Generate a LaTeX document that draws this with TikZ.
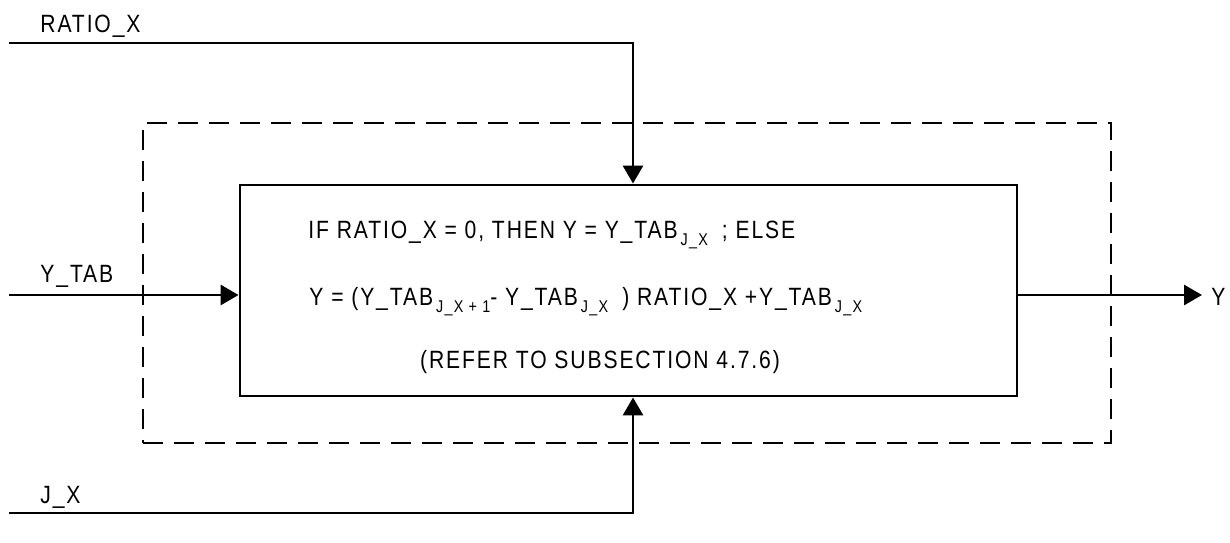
\documentclass[tikz,border=0pt]{standalone}
\usepackage{fontspec}
\setmainfont{Liberation Sans}
\newfontfamily\lab[FakeStretch=0.845,LetterSpace=7.5]{Liberation Sans}
\usetikzlibrary{arrows.meta}
\newcommand\sbx[1]{\hspace{3pt}\raisebox{-7pt}{\fontsize{17}{17}\selectfont #1}}
\begin{document}
\begin{tikzpicture}[x=1pt,y=-1pt, line width=2.9pt,
  lbl/.style={font=\lab\fontsize{25}{29}\selectfont, inner sep=0pt, anchor=base west},
  arr/.style={-{Triangle[length=18pt,width=20pt]}},
  dsh/.style={dash pattern=on 20pt off 11pt}]
\useasboundingbox (0,0) rectangle (1230,542);

% frames
\node[draw, dsh, minimum width=968pt, minimum height=320pt, inner sep=0pt] (dbox) at (627,283) {};
\node[draw, fill=white, minimum width=777pt, minimum height=211pt, inner sep=0pt] (box) at (628.5,290.5) {};

% texts in box
\node[lbl] (t1) at (307,238) {IF RATIO\_X = 0, THEN Y = Y\_TAB\sbx{J\_X}\hspace{14pt}; ELSE};
\node[lbl] (t2) at (308,305) {Y = (Y\_TAB\sbx{J\_X + 1}- Y\_TAB\sbx{J\_X}\hspace{14pt}) RATIO\_X +Y\_TAB\sbx{J\_X}};
\node[lbl, anchor=base] (t3) at (600,368) {(REFER TO SUBSECTION 4.7.6)};

% labels
\node[lbl] (lr) at (39,32) {RATIO\_X};
\node[lbl] (ly) at (39,282) {Y\_TAB};
\node[lbl] (lj) at (39,503) {J\_X};
\node[lbl] (lo) at (1210,305) {Y};

% connectors
\coordinate (r0) at (9,43);
\coordinate (rx) at (633,43);
\draw[arr] (r0) -- (rx) -- (rx |- box.north);
\coordinate (j0) at (9,513);
\coordinate (jx) at (633,513);
\draw[arr] (j0) -- (jx) -- (jx |- box.south);
\coordinate (y0) at (9,295);
\draw[arr] (y0) -- (y0 -| box.west);
\coordinate (yo) at (1202,295);
\draw[arr] (yo -| box.east) -- (yo);
\end{tikzpicture}
\end{document}
